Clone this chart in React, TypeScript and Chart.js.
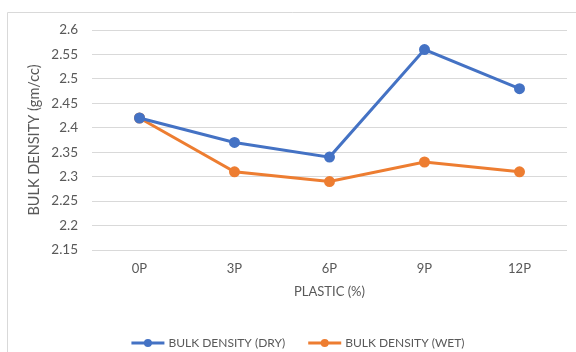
import React, { useEffect, useRef } from "react";
import { Chart, registerables } from "chart.js";

Chart.register(...registerables);

const categories = ["0P", "3P", "6P", "9P", "12P"];
const dryDensity = [2.42, 2.37, 2.34, 2.56, 2.48];
const wetDensity = [2.42, 2.31, 2.29, 2.33, 2.31];
const seriesNames = ["BULK DENSITY (DRY)", "BULK DENSITY (WET)"];
const seriesColors = ["#4472C4", "#ED7D31"];

const FONT = "Lato, 'Open Sans', sans-serif";
const TEXT = "#595959";

// Outer frame and an Excel-style legend (line with a centred marker)
const framePlugin = {
  id: "frame",
  beforeDraw(chart: any) {
    const ctx = chart.ctx;
    ctx.save();
    ctx.strokeStyle = "#d9d9d9";
    ctx.lineWidth = 1;
    ctx.beginPath();
    ctx.moveTo(7.5, chart.height + 2);
    ctx.lineTo(7.5, 12.5);
    ctx.lineTo(chart.width + 2, 12.5);
    ctx.stroke();
    ctx.restore();
  },
  afterDraw(chart: any) {
    const ctx = chart.ctx;
    ctx.save();
    ctx.font = `12px ${FONT}`;
    ctx.textBaseline = "middle";
    const y = 343;
    const lineLen = 33;
    const gap = 4;
    const itemGap = 23;
    const widths = seriesNames.map((n) => lineLen + gap + ctx.measureText(n).width);
    const total = widths.reduce((a, b) => a + b, 0) + itemGap * (seriesNames.length - 1);
    let x = 298 - total / 2;
    seriesNames.forEach((name, i) => {
      ctx.strokeStyle = seriesColors[i];
      ctx.fillStyle = seriesColors[i];
      ctx.lineWidth = 3;
      ctx.beginPath();
      ctx.moveTo(x, y);
      ctx.lineTo(x + lineLen, y);
      ctx.stroke();
      ctx.beginPath();
      ctx.arc(x + lineLen / 2, y, 4, 0, Math.PI * 2);
      ctx.fill();
      ctx.fillStyle = TEXT;
      ctx.textAlign = "left";
      ctx.fillText(name, x + lineLen + gap, y);
      x += widths[i] + itemGap;
    });
    ctx.restore();
  },
};

export default function App() {
  const canvasRef = useRef<HTMLCanvasElement | null>(null);

  useEffect(() => {
    if (!canvasRef.current) return;
    const makeSet = (label: string, data: number[], color: string) => ({
      label,
      data,
      borderColor: color,
      backgroundColor: color,
      borderWidth: 3,
      pointRadius: 4,
      pointHoverRadius: 4,
      pointBackgroundColor: color,
      pointBorderColor: color,
      tension: 0,
    });
    const chart = new Chart(canvasRef.current, {
      type: "line",
      data: {
        labels: categories,
        datasets: [
          makeSet(seriesNames[0], dryDensity, seriesColors[0]),
          makeSet(seriesNames[1], wetDensity, seriesColors[1]),
        ],
      },
      plugins: [framePlugin],
      options: {
        responsive: false,
        animation: false,
        layout: { padding: { top: 30, left: 7, right: 9, bottom: 52 } },
        plugins: {
          legend: { display: false },
          tooltip: { enabled: false },
        },
        scales: {
          x: {
            offset: true,
            grid: { display: false, drawTicks: false },
            border: { display: false },
            ticks: {
              color: TEXT,
              font: { family: FONT, size: 13 },
              padding: 11,
            },
            title: {
              display: true,
              text: "PLASTIC (%)",
              color: TEXT,
              font: { family: FONT, size: 13 },
              padding: { top: 0, bottom: 0 },
            },
            afterFit: (scale: any) => {
              scale.height = 50;
            },
          },
          y: {
            min: 2.15,
            max: 2.6,
            grid: { color: "#d9d9d9", lineWidth: 1, drawTicks: false },
            border: { display: false },
            ticks: {
              stepSize: 0.05,
              color: TEXT,
              font: { family: FONT, size: 13.5 },
              padding: 14,
              callback: (v: any) => String(Number(Number(v).toFixed(2))),
            },
            title: {
              display: true,
              text: "BULK DENSITY (gm/cc)",
              color: TEXT,
              font: { family: FONT, size: 14.5 },
              padding: { top: 19, bottom: 0 },
            },
            afterFit: (scale: any) => {
              scale.width = 85;
            },
          },
        },
      },
    });
    return () => chart.destroy();
  }, []);

  return (
    <div style={{ position: "absolute", left: 0, top: 0, width: 576, height: 352, background: "#fff" }}>
      <canvas ref={canvasRef} width={576} height={352} />
    </div>
  );
}
